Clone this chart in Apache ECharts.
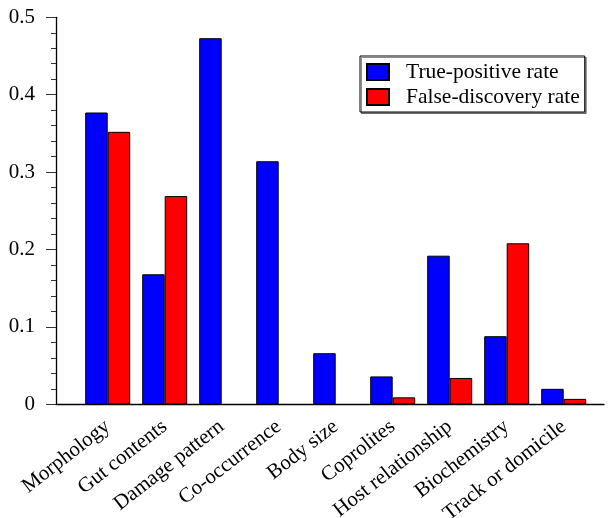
<!DOCTYPE html>
<html>
<head>
<meta charset="utf-8">
<script src="https://cdn.jsdelivr.net/npm/echarts@6/dist/echarts.min.js"></script>
<style>html,body{margin:0;padding:0;background:#fff}#c{width:608px;height:518px}</style>
</head>
<body>
<div id="c"></div>
<script>
var categories = ["Morphology", "Gut contents", "Damage pattern", "Co-occurrence", "Body size", "Coprolites", "Host relationship", "Biochemistry", "Track or domicile"];
var truePositive = [0.377, 0.168, 0.473, 0.314, 0.066, 0.036, 0.192, 0.088, 0.020];
var falseDiscovery = [0.352, 0.269, 0, 0, 0, 0.009, 0.034, 0.208, 0.007];
var yTicks = [0, 0.1, 0.2, 0.3, 0.4, 0.5];

var font = "'Liberation Serif', 'Times New Roman', serif";
var chart = echarts.init(document.getElementById('c'), null, {renderer: 'canvas'});
var gridTop = 17.3, gridBottom = 518 - 404.3;
chart.setOption({
  animation: false,
  backgroundColor: '#fff',
  textStyle: {fontFamily: font},
  grid: [
    {left: 56, right: 4, top: gridTop, bottom: gridBottom, outerBoundsMode: 'none', containLabel: false},
    {left: 79.2, right: 15.8, top: gridTop, bottom: gridBottom, outerBoundsMode: 'none', containLabel: false}
  ],
  legend: {
    left: 360, top: 56,
    orient: 'vertical',
    backgroundColor: '#fff',
    borderColor: '#000', borderWidth: 1,
    shadowColor: 'rgba(0,0,0,0.45)', shadowOffsetX: 1.5, shadowOffsetY: 1.5, shadowBlur: 0,
    padding: [5, 5, 4, 6],
    itemWidth: 22, itemHeight: 16, itemGap: 3,
    icon: 'rect',
    textStyle: {fontFamily: font, fontSize: 21.5, color: '#000', padding: [0, 0, 0, 12]},
    data: ['True-positive rate', 'False-discovery rate']
  },
  xAxis: [
    {type: 'value', gridIndex: 0, min: 0, max: 1, show: true,
     axisLine: {show: true, onZero: false, lineStyle: {color: '#000', width: 1.3}},
     axisTick: {show: false}, axisLabel: {show: false}, splitLine: {show: false}},
    {type: 'category', gridIndex: 1, data: categories,
     axisLine: {show: false}, axisTick: {show: false},
     axisLabel: {rotate: 38, margin: 20, fontFamily: font, fontSize: 21, color: '#000', interval: 0}}
  ],
  yAxis: [
    {type: 'value', gridIndex: 0, min: yTicks[0], max: yTicks[yTicks.length - 1], interval: 0.1,
     axisLine: {show: true, lineStyle: {color: '#000', width: 1.3}},
     axisTick: {show: true, length: 10, lineStyle: {color: '#333'}},
     minorTick: {show: true, splitNumber: 5, length: 5, lineStyle: {color: '#333'}},
     splitLine: {show: false},
     axisLabel: {margin: 21, fontFamily: font, fontSize: 21, color: '#000',
       formatter: function (v) { return v === 0 ? '0' : String(Math.round(v * 10) / 10); }}},
    {type: 'value', gridIndex: 1, min: 0, max: 0.5, show: false}
  ],
  series: [
    {name: 'True-positive rate', type: 'bar', xAxisIndex: 1, yAxisIndex: 1,
     data: truePositive, barWidth: 22.5, barGap: '0%',
     itemStyle: {color: '#0000ff', borderColor: '#000', borderWidth: 1}},
    {name: 'False-discovery rate', type: 'bar', xAxisIndex: 1, yAxisIndex: 1,
     data: falseDiscovery.map(function (v) { return v === 0 ? null : v; }), barWidth: 22.5, barGap: '0%',
     itemStyle: {color: '#ff0000', borderColor: '#000', borderWidth: 1}}
  ]
});
</script>
</body>
</html>
